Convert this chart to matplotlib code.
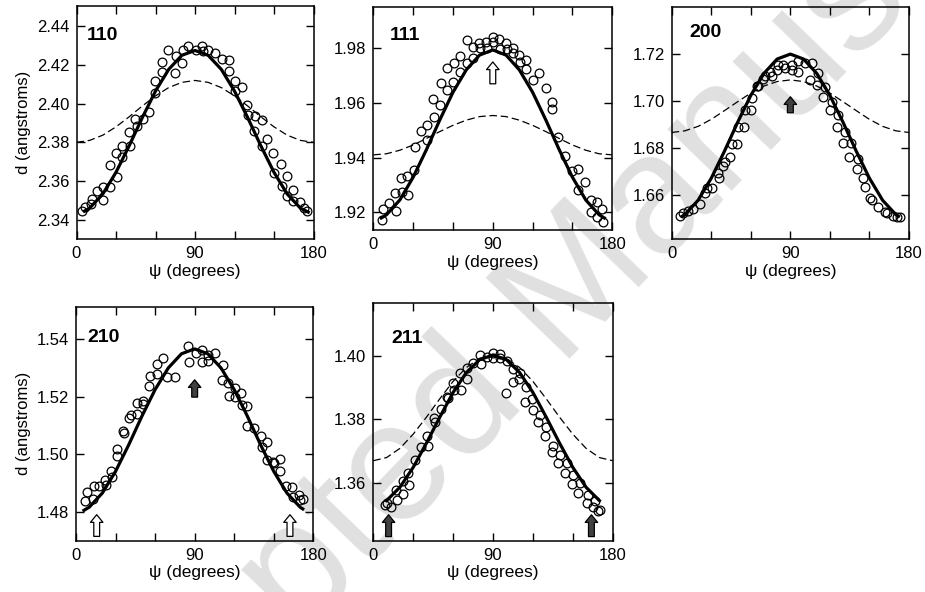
import numpy as np
import matplotlib.pyplot as plt

plt.rcParams['font.family'] = ['Liberation Sans', 'DejaVu Sans']

# --- measured points (psi in degrees, d in angstroms) ---
psi_110 = [3.9, 6.5, 10.8, 11.5, 15.8, 19.9, 20.4, 25.4, 25.4, 30.0, 30.5, 34.8, 34.6, 40.1, 40.6,
           44.4, 45.7, 50.3, 55.3, 59.6, 59.9, 64.7, 65.2, 69.8, 74.8, 75.3, 79.9, 80.6, 85.0, 90.8,
           95.1, 96.4, 100.2, 105.2, 110.3, 115.6, 115.6, 120.4, 125.5, 120.4, 129.3, 130.5, 135.6,
           140.6, 134.8, 140.6, 144.5, 149.5, 150.0, 155.1, 155.8, 160.1, 160.1, 164.7, 164.7, 169.7,
           172.8, 174.8]
d_110 = [2.3447, 2.3464, 2.3479, 2.3509, 2.3547, 2.3504, 2.3569, 2.3569, 2.3685, 2.3745, 2.3621,
         2.3779, 2.3724, 2.3852, 2.3779, 2.3922, 2.3883, 2.3922, 2.3957, 2.4119, 2.4055, 2.4164,
         2.4216, 2.4276, 2.4159, 2.4248, 2.4210, 2.4276, 2.4297, 2.4279, 2.4297, 2.4271, 2.4276,
         2.4262, 2.4231, 2.4228, 2.4167, 2.4116, 2.4086, 2.4064, 2.3995, 2.3943, 2.3934, 2.3914,
         2.3857, 2.3779, 2.3817, 2.3745, 2.3641, 2.3690, 2.3572, 2.3628, 2.3521, 2.3555, 2.3495,
         2.3490, 2.3460, 2.3443]

psi_111 = [6.3, 7.5, 12.0, 16.3, 17.1, 20.6, 21.3, 25.6, 26.4, 30.6, 31.4, 35.6, 40.2, 40.7, 45.7,
           45.2, 50.2, 50.7, 55.2, 55.2, 60.2, 60.7, 65.3, 65.3, 70.3, 70.3, 74.8, 75.3, 79.8, 80.3,
           84.8, 85.3, 89.9, 90.4, 94.9, 95.4, 99.9, 100.4, 104.9, 105.4, 109.9, 110.4, 114.9, 114.9,
           120.0, 125.0, 130.0, 134.3, 134.3, 139.3, 144.3, 149.3, 154.4, 159.4, 153.9, 163.7, 168.2,
           163.7, 172.0, 168.2, 173.3]
d_111 = [1.9172, 1.9211, 1.9233, 1.9269, 1.9206, 1.9324, 1.9275, 1.9333, 1.9263, 1.9355, 1.9440,
         1.9499, 1.9519, 1.9464, 1.9547, 1.9613, 1.9593, 1.9674, 1.9648, 1.9727, 1.9678, 1.9745,
         1.9770, 1.9715, 1.9831, 1.9745, 1.9763, 1.9806, 1.9821, 1.9800, 1.9824, 1.9800, 1.9843,
         1.9824, 1.9833, 1.9796, 1.9821, 1.9796, 1.9800, 1.9782, 1.9776, 1.9751, 1.9757, 1.9723,
         1.9684, 1.9711, 1.9654, 1.9605, 1.9577, 1.9474, 1.9406, 1.9352, 1.9357, 1.9312, 1.9281,
         1.9245, 1.9239, 1.9202, 1.9211, 1.9184, 1.9166]

psi_200 = [6.3, 8.8, 12.6, 16.4, 21.5, 25.3, 27.0, 30.3, 35.4, 36.2, 39.2, 40.4, 44.2, 45.5, 49.8,
           50.6, 54.9, 55.6, 59.9, 60.7, 64.5, 65.7, 69.5, 70.8, 74.6, 75.8, 79.6, 80.9, 84.7, 86.0,
           91.0, 91.0, 95.6, 96.1, 101.1, 104.9, 106.2, 110.0, 111.2, 115.0, 116.3, 120.1, 121.3,
           125.1, 126.4, 130.2, 131.5, 134.7, 135.8, 140.3, 141.6, 145.4, 146.6, 150.4, 151.7, 156.7,
           161.8, 163.1, 168.1, 171.1, 173.2]
d_200 = [1.6510, 1.6522, 1.6533, 1.6539, 1.6561, 1.6607, 1.6628, 1.6628, 1.6695, 1.6671, 1.6721,
         1.6742, 1.6763, 1.6817, 1.6817, 1.6891, 1.6889, 1.6963, 1.6963, 1.7012, 1.7065, 1.7062,
         1.7093, 1.7105, 1.7122, 1.7105, 1.7133, 1.7154, 1.7154, 1.7140, 1.7154, 1.7133, 1.7169,
         1.7122, 1.7162, 1.7090, 1.7162, 1.7069, 1.7119, 1.7019, 1.7059, 1.6963, 1.6994, 1.6891,
         1.6941, 1.6820, 1.6870, 1.6763, 1.6820, 1.6709, 1.6752, 1.6671, 1.6635, 1.6586, 1.6579,
         1.6550, 1.6529, 1.6522, 1.6510, 1.6507, 1.6505]

psi_210 = [6.8, 8.6, 13.1, 13.7, 17.7, 22.0, 22.8, 26.3, 27.0, 30.8, 31.3, 35.9, 36.4, 40.4, 41.5,
           46.0, 46.0, 50.6, 51.1, 56.1, 55.6, 61.2, 61.2, 66.2, 68.8, 75.1, 85.2, 85.7, 90.8, 95.3,
           95.8, 100.4, 100.4, 105.4, 110.5, 111.2, 115.5, 116.3, 120.6, 120.6, 124.9, 125.6, 130.0,
           130.0, 135.0, 140.0, 140.8, 144.6, 144.6, 149.7, 150.2, 154.7, 154.7, 159.3, 163.6, 164.8,
           169.4, 169.9, 171.9]
d_210 = [1.4837, 1.4869, 1.4845, 1.4889, 1.4891, 1.4910, 1.4895, 1.4944, 1.4923, 1.4995, 1.5018,
         1.5082, 1.5073, 1.5125, 1.5137, 1.5177, 1.5140, 1.5183, 1.5175, 1.5272, 1.5235, 1.5279,
         1.5313, 1.5333, 1.5267, 1.5267, 1.5376, 1.5318, 1.5350, 1.5362, 1.5318, 1.5322, 1.5345,
         1.5350, 1.5258, 1.5310, 1.5247, 1.5203, 1.5229, 1.5200, 1.5212, 1.5172, 1.5166, 1.5099,
         1.5091, 1.5062, 1.5027, 1.5041, 1.4981, 1.4975, 1.4970, 1.4983, 1.4941, 1.4889, 1.4886,
         1.4854, 1.4860, 1.4843, 1.4845]

psi_211 = [8.8, 10.0, 13.0, 17.0, 18.0, 22.1, 22.6, 26.3, 27.1, 31.3, 35.9, 40.6, 41.4, 45.6, 46.4,
           50.6, 55.2, 55.9, 60.2, 60.7, 65.2, 65.7, 70.2, 70.7, 75.2, 80.2, 80.7, 85.2, 89.8, 90.3,
           95.3, 95.3, 99.8, 100.3, 104.8, 104.8, 109.8, 110.3, 114.1, 114.8, 119.1, 119.8, 124.1,
           125.3, 129.1, 129.9, 134.1, 135.4, 139.1, 140.4, 144.2, 145.4, 149.2, 150.4, 154.2, 155.4,
           160.4, 161.7, 165.5, 166.7, 169.2, 170.5]
d_211 = [1.3529, 1.3535, 1.3522, 1.3577, 1.3545, 1.3606, 1.3564, 1.3631, 1.3592, 1.3671, 1.3711,
         1.3747, 1.3714, 1.3803, 1.3793, 1.3833, 1.3872, 1.3866, 1.3914, 1.3893, 1.3945, 1.3893,
         1.3961, 1.3926, 1.3977, 1.4003, 1.3975, 1.3996, 1.4011, 1.3993, 1.4006, 1.3993, 1.3884,
         1.3985, 1.3958, 1.3919, 1.3926, 1.3945, 1.3856, 1.3903, 1.3863, 1.3829, 1.3793, 1.3814,
         1.3747, 1.3775, 1.3698, 1.3714, 1.3661, 1.3687, 1.3631, 1.3661, 1.3596, 1.3624, 1.3568,
         1.3600, 1.3535, 1.3561, 1.3524, 1.3543, 1.3511, 1.3514]

# --- fitted curves (solid) and model curves (dashed) ---
psi_dash = [0, 10, 20, 30, 40, 50, 60, 70, 80, 90, 100, 110, 120, 130, 140, 150, 160, 170, 180]

fit_psi_110 = [6, 10, 20, 30, 40, 50, 60, 70, 80, 90, 100, 110, 120, 130, 140, 150, 160, 170, 176]
fit_110 = [2.3444, 2.3460, 2.3533, 2.3645, 2.3782, 2.3928, 2.4065, 2.4177, 2.4250, 2.4275,
           2.4250, 2.4177, 2.4065, 2.3928, 2.3782, 2.3645, 2.3533, 2.3460, 2.3439]
dash_110 = [2.3800, 2.3810, 2.3837, 2.3880, 2.3932, 2.3988, 2.4040, 2.4083, 2.4110, 2.4120,
            2.4110, 2.4083, 2.4040, 2.3988, 2.3932, 2.3880, 2.3837, 2.3810, 2.3800]

fit_psi_111 = [6, 10, 20, 30, 40, 50, 60, 70, 80, 90, 100, 110, 120, 130, 140, 150, 160, 170, 174]
fit_111 = [1.9179, 1.9191, 1.9245, 1.9328, 1.9429, 1.9537, 1.9639, 1.9721, 1.9775, 1.9794,
           1.9775, 1.9721, 1.9639, 1.9537, 1.9429, 1.9328, 1.9245, 1.9191, 1.9179]
dash_111 = [1.9410, 1.9414, 1.9427, 1.9446, 1.9470, 1.9495, 1.9518, 1.9537, 1.9550, 1.9554,
            1.9550, 1.9537, 1.9518, 1.9495, 1.9470, 1.9446, 1.9427, 1.9414, 1.9410]

fit_psi_200 = [8, 10, 20, 30, 40, 50, 60, 70, 80, 90, 100, 110, 120, 130, 140, 150, 160, 170, 172]
fit_200 = [1.6509, 1.6516, 1.6577, 1.6671, 1.6786, 1.6909, 1.7024, 1.7118, 1.7179, 1.7200,
           1.7179, 1.7118, 1.7024, 1.6909, 1.6786, 1.6671, 1.6577, 1.6516, 1.6509]
dash_200 = [1.6866, 1.6873, 1.6892, 1.6922, 1.6959, 1.6997, 1.7034, 1.7064, 1.7083, 1.7090,
            1.7083, 1.7064, 1.7034, 1.6997, 1.6959, 1.6922, 1.6892, 1.6873, 1.6866]

fit_psi_210 = [6, 10, 20, 30, 40, 50, 60, 70, 80, 90, 100, 110, 120, 130, 140, 150, 160, 170, 172]
fit_210 = [1.4806, 1.4817, 1.4866, 1.4941, 1.5033, 1.5132, 1.5224, 1.5299, 1.5348, 1.5365,
           1.5348, 1.5299, 1.5224, 1.5132, 1.5033, 1.4941, 1.4866, 1.4817, 1.4811]

fit_psi_211 = [10, 20, 30, 40, 50, 60, 70, 80, 90, 100, 110, 120, 130, 140, 150, 160, 170]
fit_211 = [1.3543, 1.3585, 1.3648, 1.3725, 1.3807, 1.3885, 1.3948, 1.3989, 1.4003,
           1.3989, 1.3948, 1.3885, 1.3807, 1.3725, 1.3648, 1.3585, 1.3543]
dash_211 = [1.3669, 1.3679, 1.3708, 1.3753, 1.3807, 1.3865, 1.3920, 1.3964, 1.3993, 1.4003,
            1.3993, 1.3964, 1.3920, 1.3865, 1.3807, 1.3753, 1.3708, 1.3679, 1.3669]

# arrows: (psi, d_from, d_to, filled)
arrows_111 = [(90, 1.9670, 1.9750, False)]
arrows_200 = [(90, 1.6950, 1.7018, True)]
arrows_210 = [(90, 1.5198, 1.5258, True), (15.7, 1.4716, 1.4791, False), (162.3, 1.4716, 1.4791, False)]
arrows_211 = [(11.5, 1.3429, 1.3498, True), (164, 1.3429, 1.3498, True)]

W, H = 925, 592
fig = plt.figure(figsize=(W / 100, H / 100), dpi=100)

# watermark behind everything
fig.text(0.60, 0.475, 'Accepted Manuscript', rotation=46, fontsize=122, color='#e0e0e0',
         ha='center', va='center', zorder=-5)


def panel(box, label, psi, d, fpsi, fit, dash, ylim, yticks, arrows, ylab):
    l, r, t, b = box
    ax = fig.add_axes([l / W, (H - b) / H, (r - l) / W, (b - t) / H])
    ax.set_facecolor('none')
    if dash is not None:
        ax.plot(psi_dash, dash, color='black', lw=0.9, dashes=(6, 3))
    ax.plot(fpsi, fit, color='black', lw=2.3)
    ax.plot(psi, d, 'o', mfc='none', mec='black', ms=6.3, mew=0.9)
    for x, y0, y1, filled in arrows:
        ax.annotate('', xy=(x, y1), xytext=(x, y0),
                    arrowprops=dict(arrowstyle='simple,head_width=0.9,head_length=0.55,tail_width=0.42',
                                    fc='#404040' if filled else 'white', ec='black', lw=0.9,
                                    shrinkA=0, shrinkB=0, mutation_scale=10))
    ax.set_xlim(0, 180)
    ax.set_ylim(*ylim)
    ax.set_xticks([0, 30, 60, 90, 120, 150, 180])
    ax.set_xticklabels(['0', '', '', '90', '', '', '180'])
    ax.set_yticks(yticks)
    ax.set_yticklabels(['%.2f' % v for v in yticks])
    ax.tick_params(direction='in', top=True, right=True, length=6, width=1, labelsize=12)
    ax.tick_params(axis='y', pad=5)
    ax.tick_params(axis='x', pad=5)
    for s in ax.spines.values():
        s.set_linewidth(1.1)
    ax.set_xlabel('\u03c8 (degrees)', fontsize=12.5, labelpad=2)
    if ylab:
        ax.set_ylabel('d (angstroms)', fontsize=12, labelpad=4)
    ax.text(label[1], label[2], label[0], transform=ax.transAxes, fontsize=14,
            fontweight='bold', ha='left', va='center')
    return ax


panel((76.5, 313.5, 6, 239), ('110', 0.043, 0.875), psi_110, d_110, fit_psi_110, fit_110, dash_110,
      (2.33, 2.4505), [2.34, 2.36, 2.38, 2.40, 2.42, 2.44], [], True)
panel((373.3, 612.3, 7.3, 230), ('111', 0.07, 0.874), psi_111, d_111, fit_psi_111, fit_111, dash_111,
      (1.9135, 1.995), [1.92, 1.94, 1.96, 1.98], arrows_111, False)
panel((671.7, 909, 6.7, 239), ('200', 0.076, 0.888), psi_200, d_200, fit_psi_200, fit_200, dash_200,
      (1.6412, 1.7402), [1.66, 1.68, 1.70, 1.72], arrows_200, False)
panel((76, 313.3, 306.7, 540.7), ('210', 0.046, 0.867), psi_210, d_210, fit_psi_210, fit_210, None,
      (1.4701, 1.5511), [1.48, 1.50, 1.52, 1.54], arrows_210, True)
panel((373.3, 612.7, 303.3, 540.7), ('211', 0.075, 0.853), psi_211, d_211, fit_psi_211, fit_211, dash_211,
      (1.3416, 1.4167), [1.36, 1.38, 1.40], arrows_211, False)

fig.savefig('out.png', dpi=100)
